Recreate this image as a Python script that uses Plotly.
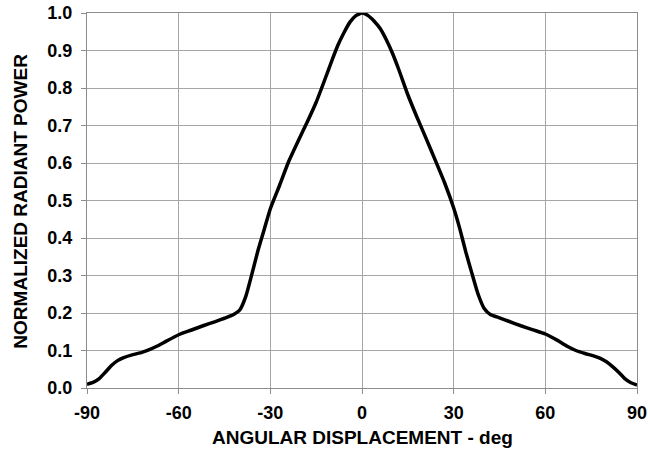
import plotly.graph_objects as go

# Angular displacement (deg) and normalized radiant power
angle_deg = [-90, -88, -86, -84, -82, -80, -78, -75, -72, -70, -67, -64, -60, -56,
             -52, -48, -45, -42, -40, -38, -36, -34, -32, -30, -27, -24, -21, -18,
             -15, -12, -10, -8, -6, -4, -2, 0,
             2, 4, 6, 8, 10, 12, 15, 18, 21, 24, 27, 30, 32, 34, 36, 38, 40, 42,
             45, 48, 52, 56, 60, 64, 67, 70, 73, 76, 78, 80, 82, 84, 86, 88, 90]
power = [0.010, 0.015, 0.025, 0.042, 0.060, 0.073, 0.081, 0.089, 0.095, 0.101,
         0.112, 0.125, 0.142, 0.154, 0.166, 0.177, 0.186, 0.196, 0.208, 0.245,
         0.305, 0.368, 0.423, 0.478, 0.540, 0.604, 0.657, 0.708, 0.762, 0.826,
         0.870, 0.912, 0.946, 0.975, 0.993, 1.000,
         0.993, 0.978, 0.958, 0.928, 0.892, 0.850, 0.782, 0.722, 0.665, 0.607,
         0.548, 0.480, 0.425, 0.362, 0.305, 0.250, 0.212, 0.196, 0.187, 0.178,
         0.166, 0.155, 0.144, 0.127, 0.112, 0.100, 0.092, 0.085, 0.079, 0.070,
         0.057, 0.042, 0.025, 0.014, 0.008]

x_ticks = [-90, -60, -30, 0, 30, 60, 90]
y_ticks = [0.0, 0.1, 0.2, 0.3, 0.4, 0.5, 0.6, 0.7, 0.8, 0.9, 1.0]

font_family = "Arial"
grid_color = "#a6a6a6"
frame_color = "#8c8c8c"
tick_size = 18
title_size = 19

tick_font = dict(family=font_family, size=tick_size, color="black", weight="bold")
title_font = dict(family=font_family, size=title_size, color="black", weight="bold")

fig = go.Figure()
fig.add_trace(go.Scatter(
    x=angle_deg, y=power, mode="lines",
    line=dict(color="black", width=3.5, shape="spline", smoothing=0.5),
    showlegend=False, hoverinfo="skip",
))

fig.update_layout(
    width=650, height=451,
    margin=dict(l=87, r=13, t=13, b=63),
    paper_bgcolor="white", plot_bgcolor="white",
    font=dict(family=font_family, size=tick_size, color="black", weight="bold"),
)

axis_common = dict(
    showgrid=True, gridcolor=grid_color, gridwidth=1,
    showline=True, linecolor=frame_color, linewidth=1, mirror=True,
    ticks="outside", ticklen=5, tickcolor=frame_color,
    zeroline=False, automargin=False, tickfont=tick_font,
)
fig.update_xaxes(
    range=[-90, 90], tickvals=x_ticks,
    ticktext=[str(v) for v in x_ticks], ticklabelstandoff=3, **axis_common,
)
fig.update_yaxes(
    range=[0, 1.0], tickvals=y_ticks,
    ticktext=[f"{v:.1f}" for v in y_ticks], ticklabelstandoff=5, **axis_common,
)

# Axis titles
fig.add_annotation(
    text="ANGULAR DISPLACEMENT - deg", xref="paper", yref="paper",
    x=0.5, y=-0.132, xanchor="center", yanchor="middle", showarrow=False,
    font=title_font,
)
fig.add_annotation(
    text="NORMALIZED RADIANT POWER", xref="paper", yref="paper",
    x=-0.12, y=0.497, xanchor="center", yanchor="middle", showarrow=False,
    textangle=-90, font=title_font,
)

fig.write_html("out.html")
